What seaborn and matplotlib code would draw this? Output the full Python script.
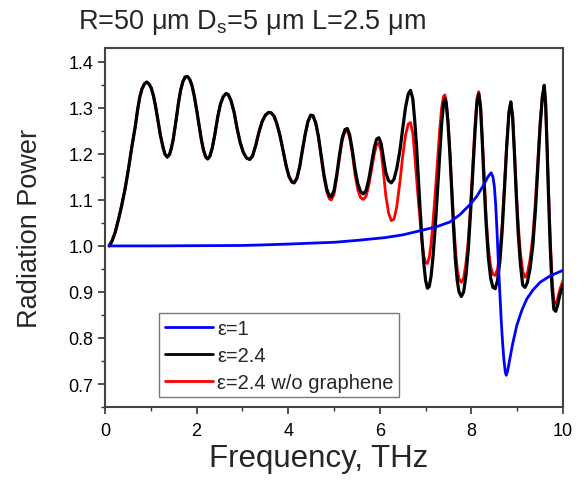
import matplotlib
matplotlib.use("Agg")
import matplotlib.pyplot as plt
from matplotlib.ticker import MultipleLocator, FormatStrFormatter, FuncFormatter
import seaborn as sns
import pandas as pd

# ---- data ----
freq_eps1 = [0.09, 1.0, 2.0, 3.0, 3.38, 4.0, 4.5, 5.02, 5.5, 6.11, 6.5, 6.84, 7.25, 7.53, 7.75,
             7.97, 8.12, 8.27, 8.36, 8.43, 8.47, 8.50, 8.53, 8.56, 8.59, 8.62, 8.65, 8.68, 8.71,
             8.74, 8.76, 8.79, 8.84, 8.90, 8.99, 9.10, 9.21, 9.35, 9.50, 9.72, 10.0]
power_eps1 = [1.000, 1.000, 1.0005, 1.001, 1.002, 1.004, 1.006, 1.008, 1.012, 1.018, 1.024, 1.032,
              1.042, 1.052, 1.068, 1.090, 1.108, 1.133, 1.150, 1.159, 1.150, 1.130, 1.090, 1.030,
              0.960, 0.899, 0.840, 0.791, 0.752, 0.726, 0.719, 0.728, 0.755, 0.787, 0.827, 0.860,
              0.885, 0.905, 0.921, 0.935, 0.947]

freq_eps24 = [0.09, 0.15, 0.22, 0.30, 0.36, 0.44, 0.51, 0.58, 0.66, 0.71, 0.76, 0.81, 0.86, 0.91,
              0.96, 1.01, 1.06, 1.11, 1.16, 1.21, 1.27, 1.31, 1.36, 1.41, 1.45, 1.49, 1.55, 1.60,
              1.65, 1.70, 1.75, 1.80, 1.85, 1.90, 1.95, 2.00, 2.05, 2.10, 2.15, 2.20, 2.24, 2.29,
              2.34, 2.40, 2.46, 2.52, 2.58, 2.64, 2.69, 2.75, 2.82, 2.88, 2.95, 3.02, 3.09, 3.16,
              3.22, 3.29, 3.36, 3.43, 3.50, 3.57, 3.63, 3.69, 3.75, 3.82, 3.89, 3.96, 4.02, 4.08,
              4.13, 4.19, 4.25, 4.31, 4.37, 4.43, 4.49, 4.54,
              4.60, 4.66, 4.72, 4.78, 4.84, 4.90, 4.94, 5.00, 5.06, 5.12, 5.18, 5.24, 5.29, 5.34,
              5.40, 5.46, 5.52, 5.58, 5.64, 5.70, 5.76, 5.82, 5.88, 5.93, 5.98, 6.03, 6.08, 6.13,
              6.19, 6.25, 6.31, 6.37, 6.44, 6.50, 6.56, 6.62, 6.67, 6.72, 6.76, 6.80, 6.84, 6.88,
              6.92, 6.96, 7.00, 7.04, 7.08, 7.12, 7.16, 7.21, 7.26, 7.31, 7.35, 7.39, 7.42, 7.45,
              7.49, 7.53, 7.57, 7.61, 7.65, 7.69, 7.73, 7.78, 7.83, 7.88, 7.93, 7.98, 8.03, 8.08,
              8.12, 8.16, 8.20, 8.24, 8.28, 8.32, 8.37, 8.42, 8.47, 8.52, 8.57, 8.62, 8.67, 8.72,
              8.77, 8.82, 8.86, 8.90, 8.94, 8.98, 9.02, 9.07, 9.12, 9.17, 9.22, 9.28, 9.34, 9.40,
              9.45, 9.50, 9.55, 9.59, 9.62, 9.65, 9.68, 9.72, 9.76, 9.80, 9.84, 9.88, 9.93, 10.0]

power_shared = [1.000, 1.010, 1.029, 1.060, 1.086, 1.125, 1.166, 1.212, 1.259, 1.295, 1.324, 1.342,
                1.352, 1.356, 1.352, 1.343, 1.325, 1.300, 1.270, 1.240, 1.213, 1.199, 1.193, 1.199,
                1.213, 1.232, 1.272, 1.308, 1.338, 1.357, 1.367, 1.368, 1.362, 1.348, 1.325, 1.296,
                1.265, 1.233, 1.208, 1.193, 1.189, 1.195, 1.212, 1.243, 1.280, 1.308, 1.324, 1.331,
                1.329, 1.316, 1.290, 1.257, 1.225, 1.203, 1.191, 1.188, 1.195, 1.218, 1.247, 1.270,
                1.284, 1.290, 1.289, 1.282, 1.266, 1.240, 1.206, 1.172, 1.150, 1.139, 1.137, 1.147,
                1.172, 1.208, 1.242, 1.270, 1.284, 1.283]

power_eps24_tail = [1.268, 1.238, 1.196, 1.155, 1.124, 1.108, 1.107, 1.120, 1.155, 1.198, 1.235,
                    1.253, 1.255, 1.242, 1.208, 1.166, 1.135, 1.118, 1.113, 1.120, 1.145, 1.180,
                    1.214, 1.232, 1.235, 1.222, 1.190, 1.160, 1.142, 1.137, 1.145, 1.168, 1.208,
                    1.255, 1.300, 1.330, 1.338, 1.320, 1.275, 1.220, 1.150, 1.080, 1.015, 0.962,
                    0.925, 0.908, 0.912, 0.935, 0.975, 1.040, 1.120, 1.200, 1.265, 1.308, 1.320,
                    1.310, 1.265, 1.200, 1.120, 1.040, 0.970, 0.925, 0.900, 0.890, 0.900, 0.935,
                    0.990, 1.070, 1.160, 1.250, 1.310, 1.330, 1.300, 1.220, 1.130, 1.050, 0.975,
                    0.930, 0.910, 0.907, 0.925, 0.965, 1.030, 1.120, 1.215, 1.290, 1.313, 1.280,
                    1.200, 1.110, 1.030, 0.960, 0.915, 0.910, 0.920, 0.950, 1.000, 1.080, 1.170,
                    1.260, 1.325, 1.349, 1.310, 1.220, 1.120, 1.000, 0.910, 0.862, 0.858, 0.870,
                    0.893, 0.915]

power_wo_tail = [1.266, 1.236, 1.192, 1.150, 1.118, 1.102, 1.100, 1.112, 1.148, 1.192, 1.230,
                 1.249, 1.250, 1.236, 1.200, 1.155, 1.122, 1.105, 1.101, 1.108, 1.132, 1.166,
                 1.200, 1.220, 1.223, 1.205, 1.160, 1.110, 1.072, 1.055, 1.058, 1.085, 1.140,
                 1.195, 1.240, 1.265, 1.268, 1.245, 1.200, 1.150, 1.100, 1.055, 1.010, 0.978,
                 0.963, 0.962, 0.975, 1.005, 1.050, 1.115, 1.185, 1.255, 1.300, 1.325, 1.328,
                 1.315, 1.270, 1.205, 1.130, 1.055, 0.995, 0.950, 0.928, 0.921, 0.930, 0.962,
                 1.010, 1.085, 1.175, 1.265, 1.320, 1.335, 1.305, 1.230, 1.145, 1.065, 0.995,
                 0.955, 0.938, 0.936, 0.950, 0.985, 1.045, 1.130, 1.220, 1.290, 1.312, 1.280,
                 1.205, 1.120, 1.050, 0.985, 0.945, 0.932, 0.940, 0.970, 1.020, 1.100, 1.185,
                 1.270, 1.325, 1.345, 1.310, 1.225, 1.130, 1.020, 0.930, 0.880, 0.874, 0.884,
                 0.905, 0.925]

power_eps24 = power_shared + power_eps24_tail
power_eps24_wo = power_shared + power_wo_tail

labels = ["ε=1", "ε=2.4", "ε=2.4 w/o graphene"]
colors = ["#0000ff", "#000000", "#ff0000"]

sns.set_style("ticks")
plt.rcParams["font.family"] = ["Liberation Sans", "DejaVu Sans"]
plt.rcParams["mathtext.fontset"] = "custom"
plt.rcParams["mathtext.rm"] = "Liberation Sans"
plt.rcParams["mathtext.it"] = "Liberation Sans:italic"

fig = plt.figure(figsize=(5.88, 4.89), dpi=100)
ax = fig.add_axes([0.1786, 0.1656, 0.7789, 0.7342])

df1 = pd.DataFrame({"f": freq_eps1, "p": power_eps1})
df2 = pd.DataFrame({"f": freq_eps24, "p": power_eps24})
df3 = pd.DataFrame({"f": freq_eps24, "p": power_eps24_wo})

sns.lineplot(data=df1, x="f", y="p", ax=ax, color=colors[0], lw=2.0, label=labels[0],
             estimator=None, sort=False, zorder=4)
sns.lineplot(data=df2, x="f", y="p", ax=ax, color=colors[1], lw=2.3, label=labels[1],
             estimator=None, sort=False, zorder=3)
sns.lineplot(data=df3, x="f", y="p", ax=ax, color=colors[2], lw=2.0, label=labels[2],
             estimator=None, sort=False, zorder=2)

ax.set_xlim(0, 10)
ax.set_ylim(0.65, 1.43)
ax.xaxis.set_major_locator(MultipleLocator(2))
ax.xaxis.set_minor_locator(MultipleLocator(1))
ax.yaxis.set_major_locator(MultipleLocator(0.1))
ax.yaxis.set_minor_locator(MultipleLocator(0.05))
ax.xaxis.set_major_formatter(FuncFormatter(lambda v, p: f"{v:g}"))
ax.yaxis.set_major_formatter(FormatStrFormatter("%.1f"))
ax.tick_params(which="major", direction="out", length=5, width=1.2, labelsize=13,
               colors="#333333", labelcolor="black")
ax.tick_params(axis="x", which="major", pad=6)
ax.tick_params(which="minor", direction="out", length=3, width=1.0, colors="#333333")
for s in ax.spines.values():
    s.set_visible(True)
    s.set_linewidth(1.5)
    s.set_color("#444444")

ax.set_xlabel("Frequency, THz", fontsize=22.5, labelpad=5)
ax.xaxis.set_label_coords(0.467, -0.1)
ax.xaxis.label.set_va("top")
ax.set_ylabel("Radiation Power", fontsize=19.5, labelpad=18)

fig.text(0.4286, 0.953, r"R=50 μm D$_\mathrm{s}$=5 μm L=2.5 μm", fontsize=19.5,
         ha="center", va="center")

leg = ax.legend(loc="lower left", bbox_to_anchor=(0.118, 0.027), borderaxespad=0,
                fontsize=14.5, frameon=True, fancybox=False, handlelength=2.4,
                handletextpad=0.2, labelspacing=0.4, borderpad=0.28)
leg.get_frame().set_edgecolor("#555555")
leg.get_frame().set_linewidth(1.0)
for h in leg.get_lines():
    h.set_linewidth(2.0)

fig.savefig("out.png", dpi=100)
